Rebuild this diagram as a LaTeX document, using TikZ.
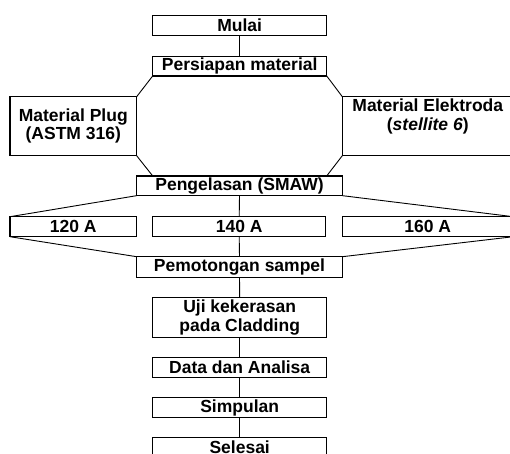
\documentclass[tikz,border=0pt]{standalone}
\usepackage{fontspec}
\setmainfont{Liberation Sans}
\begin{document}
\begin{tikzpicture}[x=1pt,y=-1pt,
  box/.style={draw, line width=1.3pt, inner sep=0pt, outer sep=0pt, align=center,
    font=\fontsize{17.5}{18.5}\selectfont\bfseries},
  txt/.style={inner sep=0pt, outer sep=0pt, align=center,
    font=\fontsize{17.5}{18.5}\selectfont\bfseries},
  conn/.style={draw, line width=0.9pt}]
\useasboundingbox (0,0) rectangle (510,453);
\clip (0,0) rectangle (510,453);
\fill[white] (0,0) rectangle (510,453);
% boxes
\node[box, minimum width=174pt, minimum height=20pt] (mulai) at (239.7,25.7) {Mulai};
\node[box, minimum width=174pt, minimum height=19.3pt] (persiapan) at (239.7,66.3) {Persiapan material};
\node[box, minimum width=126.7pt, minimum height=59pt] (plug) at (73.3,126.2) {Material Plug\\(ASTM 316)};
\node[box, minimum width=171pt, minimum height=59pt] (elektroda) at (427.8,126.2) {};
\node[txt, anchor=base] (elektrodaA) at (427.8,111.7) {Material Elektroda};
\node[txt, anchor=base] (elektrodaB) at (427.8,130) {(\textit{stellite 6})};
\node[box, minimum width=205.6pt, minimum height=19.7pt] (pengelasan) at (239.5,185.8) {Pengelasan (SMAW)};
\node[box, minimum width=126.7pt, minimum height=20pt] (a120) at (73.3,226.7) {120 A};
\node[box, minimum width=173pt, minimum height=20pt] (a140) at (239.2,226.7) {140 A};
\node[box, minimum width=171pt, minimum height=20pt] (a160) at (427.8,226.7) {160 A};
\node[box, minimum width=205.6pt, minimum height=20.6pt] (pemotongan) at (239.5,267) {Pemotongan sampel};
\node[box, minimum width=174pt, minimum height=40pt] (uji) at (239.7,317.3) {Uji kekerasan\\pada Cladding};
\node[box, minimum width=174pt, minimum height=20.4pt] (data) at (239.7,367.5) {Data dan Analisa};
\node[box, minimum width=174pt, minimum height=20pt] (simpulan) at (239.7,407.7) {Simpulan};
\node[box, minimum width=174pt, minimum height=20pt] (selesai) at (239.7,447.7) {Selesai};
% connectors
\coordinate (pgL) at (persiapan.south west |- pengelasan.north);
\coordinate (pgR) at (persiapan.south east |- pengelasan.north);
\draw[conn] (mulai.south) -- (persiapan.north);
\draw[conn] (persiapan.south west) -- (plug.north east);
\draw[conn] (persiapan.south east) -- (elektroda.north west);
\draw[conn] (plug.south east) -- (pgL);
\draw[conn] (elektroda.south west) -- (pgR);
\draw[conn] (pengelasan.south west) -- (a120.north west);
\draw[conn] (pengelasan.south east) -- (a160.north east);
\draw[conn] (pengelasan.south) -- (a140.north);
\draw[conn] (a140.south) -- (pemotongan.north);
\draw[conn] (a120.south west) -- (pemotongan.north west);
\draw[conn] (a160.south east) -- (pemotongan.north east);
\draw[conn] (pemotongan.south) -- (uji.north);
\draw[conn] (uji.south) -- (data.north);
\draw[conn] (data.south) -- (simpulan.north);
\draw[conn] (simpulan.south) -- (selesai.north);
\end{tikzpicture}
\end{document}
